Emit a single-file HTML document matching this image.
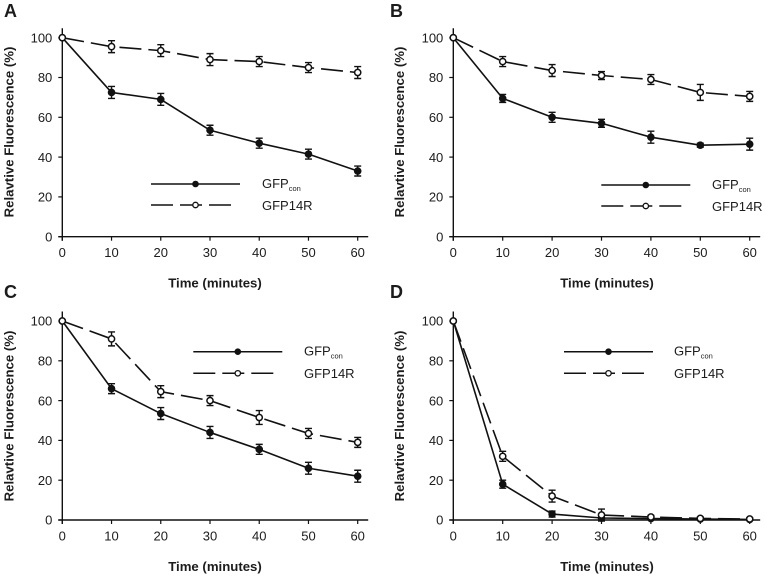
<!DOCTYPE html>
<html>
<head>
<meta charset="utf-8">
<style>
html,body{margin:0;padding:0;background:#fff;}
svg{display:block;filter:blur(0.25px);}
text{font-family:"Liberation Sans",Arial,sans-serif;fill:#1c1c1c;}
.tick{font-size:13px;}
.title{font-size:13.2px;font-weight:bold;text-anchor:middle;}
.letter{font-size:18px;font-weight:bold;}
.leg{font-size:13px;}
.sub{font-size:7.5px;}
</style>
</head>
<body>
<svg id="fig" xmlns="http://www.w3.org/2000/svg" width="765" height="577" viewBox="0 0 765 577">
  <g id="panel-a">
    <text class="letter" x="4" y="17">A</text>
    <text class="title" transform="translate(13.5,132) rotate(-90)">Relavtive Fluorescence (%)</text>
    <text class="title" x="215" y="287.5">Time (minutes)</text>
    <text class="leg" x="262" y="188">GFP<tspan class="sub" dy="3">con</tspan></text>
    <text class="leg" x="262" y="210">GFP14R</text>
  </g>
  <g id="panel-b">
    <text class="letter" x="390" y="17">B</text>
    <text class="title" transform="translate(404,132) rotate(-90)">Relavtive Fluorescence (%)</text>
    <text class="title" x="607" y="287.5">Time (minutes)</text>
    <text class="leg" x="712" y="189">GFP<tspan class="sub" dy="3">con</tspan></text>
    <text class="leg" x="712" y="211">GFP14R</text>
  </g>
  <g id="panel-c">
    <text class="letter" x="4" y="298">C</text>
    <text class="title" transform="translate(13.5,416) rotate(-90)">Relavtive Fluorescence (%)</text>
    <text class="title" x="215" y="571">Time (minutes)</text>
    <text class="leg" x="304" y="355.5">GFP<tspan class="sub" dy="3">con</tspan></text>
    <text class="leg" x="304" y="378">GFP14R</text>
  </g>
  <g id="panel-d">
    <text class="letter" x="390" y="298">D</text>
    <text class="title" transform="translate(404,416) rotate(-90)">Relavtive Fluorescence (%)</text>
    <text class="title" x="607" y="571">Time (minutes)</text>
    <text class="leg" x="674" y="355.5">GFP<tspan class="sub" dy="3">con</tspan></text>
    <text class="leg" x="674" y="378">GFP14R</text>
  </g>
</svg>
<script>
var times = [0, 10, 20, 30, 40, 50, 60];
var xTickLabels = [0, 10, 20, 30, 40, 50, 60];
var yTickLabels = [0, 20, 40, 60, 80, 100];

var conA = [100, 72.5, 69, 53.5, 47, 41.5, 33];
var conErrA = [0, 3, 3, 2.5, 2.5, 2.5, 2.5];
var r14A = [100, 95.5, 93.5, 89, 88, 85, 82.5];
var r14ErrA = [0, 3, 3, 3, 2.5, 2.5, 3];

var conB = [100, 69.5, 60, 57, 50, 46, 46.5];
var conErrB = [0, 2, 2.5, 2, 3, 1, 3];
var r14B = [100, 88, 83.5, 81, 79, 72.5, 70.5];
var r14ErrB = [0, 2.5, 3, 2, 2.5, 4, 2.5];

var conC = [100, 66, 53.5, 44, 35.5, 26, 22];
var conErrC = [0, 2.5, 3, 3, 2.5, 3, 3];
var r14C = [100, 91, 64.5, 60, 51.5, 43.5, 39];
var r14ErrC = [0, 3.5, 3, 2.5, 3.5, 2.5, 2.5];

var conD = [100, 18, 3, 1, 0.7, 0.5, 0.3];
var conErrD = [0, 2, 1.5, 0.5, 0.5, 0.5, 0.3];
var r14D = [100, 32, 12, 2.5, 1.5, 0.8, 0.5];
var r14ErrD = [0, 2.5, 3, 3, 0.8, 0.7, 0.5];

var NS = 'http://www.w3.org/2000/svg';
var INK = '#111';

function make(parent, tag, props) {
  var node = document.createElementNS(NS, tag);
  for (var k in props) node.setAttribute(k, props[k]);
  parent.appendChild(node);
  return node;
}

function drawPanel(cfg) {
  var g = document.getElementById('panel-' + cfg.id);
  var sx = function (v) { return cfg.x0 + v * (cfg.x60 - cfg.x0) / 60; };
  var sy = function (v) { return cfg.y0 + v * (cfg.y100 - cfg.y0) / 100; };
  var el;

  el = make(g, 'line', {x1: cfg.x0, x2: cfg.x0, y1: cfg.y100 - 9.5, y2: cfg.y0 + 4, stroke: INK, 'stroke-width': 1.4});
  
  

  el = make(g, 'line', {x1: cfg.x0 - 4, x2: cfg.x60 + 10.5, y1: cfg.y0, y2: cfg.y0, stroke: INK, 'stroke-width': 1.4});
  
  

  yTickLabels.forEach(function (v) {
    var m = make(g, 'line', {x1: cfg.x0 - 4, x2: cfg.x0, y1: sy(v), y2: sy(v), stroke: INK, 'stroke-width': 1.2});
    
    
    var t = make(g, 'text', {'class': 'tick', x: cfg.x0 - 10, y: sy(v) + 4.7, 'text-anchor': 'end'});
    t.textContent = v;
    
    
  });

  xTickLabels.forEach(function (v) {
    var m = make(g, 'line', {x1: sx(v), x2: sx(v), y1: cfg.y0, y2: cfg.y0 + 4, stroke: INK, 'stroke-width': 1.2});
    
    
    var t = make(g, 'text', {'class': 'tick', x: sx(v), y: cfg.y0 + 20.5, 'text-anchor': 'middle'});
    t.textContent = v;
    
    
  });

  drawSeries(g, 'gfpcon', cfg.con, cfg.conErr, false, sx, sy);
  drawSeries(g, 'gfp14r', cfg.r14, cfg.r14Err, true, sx, sy);
  drawLegend(g, cfg);
}

function drawSeries(g, name, values, errs, open, sx, sy) {
  var d = values.map(function (v, i) {
    return (i ? 'L' : 'M') + sx(times[i]).toFixed(2) + ' ' + sy(v).toFixed(2);
  }).join(' ');
  var props = {d: d, fill: 'none', stroke: INK, 'stroke-width': 1.6, 'stroke-linejoin': 'round'};
  if (open) props['stroke-dasharray'] = '22 7';
  var path = make(g, 'path', props);
  
  

  values.forEach(function (v, i) {
    var x = sx(times[i]);
    var e = errs[i];
    if (e > 0) {
      var bar = make(g, 'path', {
        d: 'M' + (x - 3.5) + ' ' + sy(v + e) + ' H' + (x + 3.5) + ' M' + x + ' ' + sy(v + e) + ' V' + sy(v - e) + ' M' + (x - 3.5) + ' ' + sy(v - e) + ' H' + (x + 3.5),
        fill: 'none', stroke: INK, 'stroke-width': 1.4
      });
      
      
    }
    var dot = make(g, 'circle', {cx: x, cy: sy(v), r: open ? 3.1 : 3.5, fill: open ? '#fff' : INK, stroke: INK, 'stroke-width': open ? 1.5 : 0.6});
    
    
  });
}

function drawLegend(g, cfg) {
  var solid = make(g, 'line', {x1: cfg.lx, x2: cfg.lx + 89, y1: cfg.ly1, y2: cfg.ly1, stroke: INK, 'stroke-width': 1.5});
  
  
  var sd = make(g, 'circle', {cx: cfg.lx + 44.5, cy: cfg.ly1, r: 3.3, fill: INK});
  
  
  var dash = make(g, 'line', {x1: cfg.lx, x2: cfg.lx + 81, y1: cfg.ly2, y2: cfg.ly2, stroke: INK, 'stroke-width': 1.5, 'stroke-dasharray': '22 7'});
  
  
  var od = make(g, 'circle', {cx: cfg.lx + 44.5, cy: cfg.ly2, r: 2.7, fill: '#fff', stroke: INK, 'stroke-width': 1.3});
  
  
}

drawPanel({id: 'a', x0: 62.3, x60: 357.7, y100: 37.7, y0: 236.7, con: conA, conErr: conErrA, r14: r14A, r14Err: r14ErrA, lx: 151, ly1: 184, ly2: 205});
drawPanel({id: 'b', x0: 453.3, x60: 749.7, y100: 37.7, y0: 236.7, con: conB, conErr: conErrB, r14: r14B, r14Err: r14ErrB, lx: 601.3, ly1: 185, ly2: 206});
drawPanel({id: 'c', x0: 62.3, x60: 357.7, y100: 321, y0: 520, con: conC, conErr: conErrC, r14: r14C, r14Err: r14ErrC, lx: 193.3, ly1: 351.7, ly2: 373.3});
drawPanel({id: 'd', x0: 453.3, x60: 749.7, y100: 321, y0: 520, con: conD, conErr: conErrD, r14: r14D, r14Err: r14ErrD, lx: 564, ly1: 351.7, ly2: 373.3});
</script>
</body>
</html>
